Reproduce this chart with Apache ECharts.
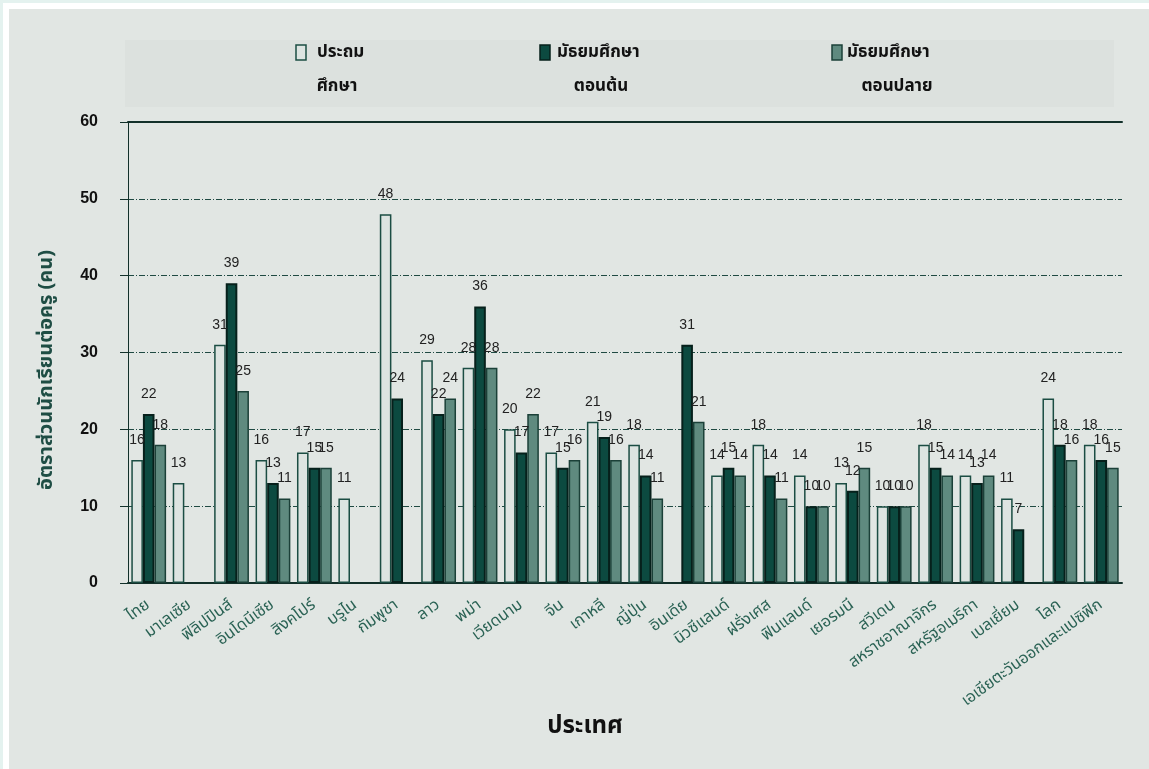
<!DOCTYPE html>
<html>
<head>
<meta charset="utf-8">
<script src="https://cdn.jsdelivr.net/npm/echarts@6/dist/echarts.min.js"></script>
<style>
  html, body { margin: 0; padding: 0; width: 1149px; height: 769px; overflow: hidden; background: #E4F2EF; }
  #frame { position: absolute; left: 3px; top: 3px; width: 1146px; height: 766px; background: #ffffff; }
  #chart { position: absolute; left: 9px; top: 9px; width: 1140px; height: 760px; background: #E1E6E3; }
</style>
</head>
<body>
<div id="frame"></div>
<div id="chart"></div>
<script>
// Countries / regions along the x axis
const countries = [
  'ไทย', 'มาเลเซีย', 'ฟิลิปปินส์', 'อินโดนีเซีย', 'สิงคโปร์', 'บรูไน',
  'กัมพูชา', 'ลาว', 'พม่า', 'เวียดนาม', 'จีน', 'เกาหลี',
  'ญี่ปุ่น', 'อินเดีย', 'นิวซีแลนด์', 'ฝรั่งเศส', 'ฟินแลนด์', 'เยอรมนี',
  'สวีเดน', 'สหราชอาณาจักร', 'สหรัฐอเมริกา', 'เบลเยี่ยม', 'โลก', 'เอเชียตะวันออกและแปซิฟิก'
];

// Pupils per teacher, by school level (null = no data)
const primary = [16, 13, 31, 16, 17, 11, 48, 29, 28, 20, 17, 21, 18, null, 14, 18, 14, 13, 10, 18, 14, 11, 24, 18];
const lowerSecondary = [22, null, 39, 13, 15, null, 24, 22, 36, 17, 15, 19, 14, 31, 15, 14, 10, 12, 10, 15, 13, 7, 18, 16];
const upperSecondary = [18, null, 25, 11, 15, null, null, 24, 28, 22, 16, 16, 11, 21, 14, 11, 10, 15, 10, 14, 14, null, 16, 15];

// Legend labels, two lines each
const seriesNames = ['ประถมศึกษา', 'มัธยมศึกษาตอนต้น', 'มัธยมศึกษาตอนปลาย'];
const legendLines = [['ประถม', 'ศึกษา'], ['มัธยมศึกษา', 'ตอนต้น'], ['มัธยมศึกษา', 'ตอนปลาย']];

const yTicks = { min: 0, max: 60, interval: 10 };
const yTitle = 'อัตราส่วนนักเรียนต่อครู (คน)';
const xTitle = 'ประเทศ';

const fills = ['#DDE4E1', '#0C4A40', '#5F8A7F'];
const strokes = ['#1B4D43', '#06201B', '#1B4038'];
const strokeWidths = [1.5, 2, 1.5];

const thaiFont = '"Noto Sans Thai", "Noto Sans Thai Looped", Loma, Garuda, "Tlwg Typo", sans-serif';

const chart = echarts.init(document.getElementById('chart'), null, { renderer: 'canvas' });

const valueLabel = {
  show: true,
  position: 'top',
  distance: 13,
  color: '#222',
  fontSize: 14,
  fontFamily: 'Arial, "Liberation Sans", sans-serif'
};

const seriesData = [primary, lowerSecondary, upperSecondary];

// Legend built from graphic elements: swatch + two text lines
const legendIconX = [287, 531, 823];
const legendLine1X = [308, 548, 838];
const legendLine2X = [328, 592, 888];
const legendGraphics = [];
legendLines.forEach((lines, i) => {
  legendGraphics.push({
    type: 'rect',
    shape: { x: legendIconX[i], y: 36, width: 10, height: 15 },
    style: { fill: fills[i], stroke: strokes[i], lineWidth: 1.5 }
  });
  legendGraphics.push({
    type: 'text',
    style: {
      x: legendLine1X[i], y: 45, text: lines[0], align: 'left', verticalAlign: 'middle',
      fill: '#111', font: 'bold 17px ' + thaiFont
    }
  });
  legendGraphics.push({
    type: 'text',
    style: {
      x: legendLine2X[i], y: 79, text: lines[1], align: 'center', verticalAlign: 'middle',
      fill: '#111', font: 'bold 17px ' + thaiFont
    }
  });
});

chart.setOption({
  animation: false,
  backgroundColor: 'transparent',
  grid: { left: 119, right: 27, top: 113, bottom: 186, containLabel: false },
  graphic: [
    {
      type: 'rect',
      z: -10,
      shape: { x: 116, y: 31, width: 989, height: 67 },
      style: { fill: '#DCE1DE' }
    },
    {
      type: 'text',
      x: 39,
      y: 361,
      rotation: Math.PI / 2,
      style: {
        text: yTitle, align: 'center', verticalAlign: 'middle',
        fill: '#1E4D44', font: 'bold 20px ' + thaiFont
      }
    }
  ].concat(legendGraphics),
  xAxis: [
    {
      type: 'category',
      data: countries,
      position: 'bottom',
      name: xTitle,
      nameLocation: 'middle',
      nameGap: 128,
      nameTextStyle: {
        fontSize: 24, fontWeight: 'bold', color: '#111', fontFamily: thaiFont,
        padding: [0, 80, 0, 0]
      },
      axisLine: { show: true, lineStyle: { color: '#12302A', width: 2 } },
      axisTick: { show: false },
      axisLabel: {
        interval: 0,
        rotate: 36,
        color: '#2A6254',
        fontSize: 16,
        fontFamily: thaiFont,
        margin: 21
      }
    },
    {
      // solid line along the top edge of the plot
      type: 'category',
      data: countries,
      position: 'top',
      axisLine: { show: true, lineStyle: { color: '#12302A', width: 2 } },
      axisTick: { show: false },
      axisLabel: { show: false }
    }
  ],
  yAxis: {
    type: 'value',
    min: yTicks.min,
    max: yTicks.max,
    interval: yTicks.interval,
    axisLine: { show: true, lineStyle: { color: '#12302A', width: 1 } },
    axisTick: { show: true, inside: false, length: 8, lineStyle: { color: '#12302A' } },
    axisLabel: {
      color: '#111',
      fontSize: 16,
      fontWeight: 'bold',
      fontFamily: 'Arial, "Liberation Sans", sans-serif',
      margin: 30
    },
    splitLine: {
      show: true,
      lineStyle: { color: '#1F4A42', width: 1, type: [6, 2, 1, 2] }
    }
  },
  series: seriesNames.map((name, i) => ({
    name: name,
    type: 'bar',
    xAxisIndex: 0,
    data: seriesData[i],
    barGap: '0%',
    barCategoryGap: '16%',
    itemStyle: { color: fills[i], borderColor: strokes[i], borderWidth: strokeWidths[i] },
    label: valueLabel
  }))
});
</script>
</body>
</html>
